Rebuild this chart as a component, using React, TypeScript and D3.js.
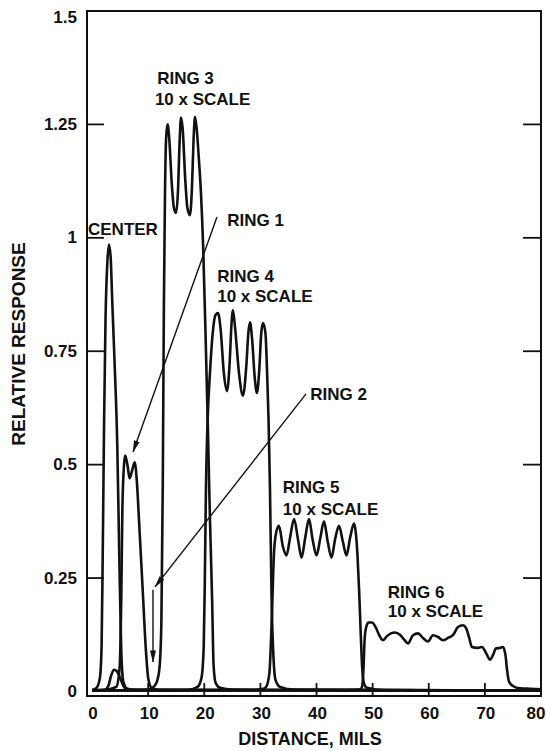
import React from "react";
import * as d3 from "d3";

type Pt = [number, number];

// ---- data (x in mils, y = relative response) ----
const xTicks = [0, 10, 20, 30, 40, 50, 60, 70, 80];
const yTicks = [0, 0.25, 0.5, 0.75, 1, 1.25, 1.5];
const yTickLabels = ["0", "0.25", "0.5", "0.75", "1", "1.25", "1.5"];

const centerCurve: Pt[] = [[0,0.003],[0.8,0.008],[1.4,0.03],[1.7,0.1],[1.9,0.3],[2.15,0.6],[2.4,0.82],[2.7,0.94],[3.0,0.985],[3.3,0.96],[3.6,0.86],[4.0,0.73],[4.5,0.54],[4.85,0.3],[5.2,0.09],[5.6,0.02],[6.3,0.006],[8,0.003],[80,0.002]];

const innerBump: Pt[] = [[0,0.002],[2.2,0.003],[2.9,0.012],[3.4,0.035],[3.9,0.048],[4.4,0.045],[5.0,0.03],[5.6,0.012],[6.3,0.004],[80,0.002]];

const ring1: Pt[] = [[0,0.003],[3,0.005],[4.3,0.01],[4.9,0.05],[5.2,0.2],[5.4,0.4],[5.7,0.5],[5.9,0.52],[6.3,0.5],[6.7,0.47],[7.2,0.49],[7.6,0.505],[8.0,0.46],[8.4,0.37],[9.0,0.23],[9.6,0.09],[10.0,0.03],[10.6,0.008],[12,0.003],[80,0.002]];

const ring3: Pt[] = [[0,0.002],[9.5,0.003],[10.8,0.008],[11.5,0.02],[12.0,0.05],[12.35,0.15],[12.6,0.45],[12.8,0.85],[13.0,1.1],[13.2,1.22],[13.45,1.25],[13.75,1.22],[14.2,1.12],[14.6,1.065],[14.96,1.055],[15.3,1.1],[15.6,1.21],[15.85,1.265],[16.15,1.24],[16.6,1.13],[17.0,1.065],[17.45,1.05],[17.8,1.11],[18.1,1.22],[18.35,1.267],[18.65,1.24],[19.0,1.18],[19.4,1.1],[19.8,0.98],[20.3,0.75],[20.66,0.57],[21.0,0.385],[21.4,0.2],[21.65,0.06],[22.0,0.02],[22.8,0.008],[25,0.004],[80,0.002]];

const ring4: Pt[] = [[0,0.002],[17,0.003],[18.8,0.01],[19.5,0.03],[19.9,0.1],[20.1,0.25],[20.3,0.45],[20.6,0.6],[21.0,0.7],[21.5,0.79],[22.0,0.83],[22.44,0.834],[22.9,0.8],[23.5,0.7],[24.04,0.662],[24.5,0.72],[24.85,0.81],[25.11,0.84],[25.5,0.8],[26.2,0.7],[26.9,0.652],[27.5,0.72],[27.85,0.79],[28.14,0.814],[28.5,0.78],[29.0,0.69],[29.39,0.658],[29.8,0.71],[30.15,0.79],[30.46,0.812],[30.9,0.79],[31.2,0.7],[31.45,0.6],[31.7,0.45],[32.0,0.2],[32.35,0.07],[32.7,0.025],[33.5,0.01],[36,0.004],[80,0.002]];

const ring5: Pt[] = [[0,0.002],[28,0.003],[30.5,0.006],[31.0,0.01],[31.6,0.04],[32.0,0.15],[32.4,0.3],[32.8,0.35],[33.3,0.365],[34.0,0.32],[34.65,0.3],[35.3,0.34],[36.0,0.38],[36.7,0.335],[37.33,0.295],[38.0,0.34],[38.66,0.38],[39.3,0.335],[40.0,0.3],[40.7,0.34],[41.33,0.375],[42.0,0.33],[42.67,0.295],[43.3,0.335],[44.0,0.365],[44.7,0.33],[45.34,0.3],[46.0,0.34],[46.67,0.37],[47.0,0.35],[47.3,0.3],[47.6,0.22],[47.9,0.12],[48.15,0.05],[48.4,0.02],[49,0.008],[52,0.003],[80,0.002]];

const ring6: Pt[] = [[0,0.002],[45,0.003],[47.74,0.004],[48.1,0.01],[48.37,0.05],[48.55,0.11],[48.81,0.14],[49.26,0.152],[49.88,0.152],[50.6,0.14],[51.13,0.125],[51.84,0.113],[52.55,0.122],[53.26,0.128],[53.98,0.13],[54.87,0.125],[55.58,0.115],[56.3,0.106],[57.19,0.124],[58.08,0.128],[58.97,0.118],[59.86,0.11],[60.76,0.124],[61.65,0.12],[62.54,0.113],[63.43,0.118],[64.31,0.124],[65.2,0.142],[66.09,0.146],[66.63,0.14],[67.17,0.12],[67.7,0.098],[68.6,0.096],[69.49,0.098],[70.2,0.085],[70.91,0.07],[71.44,0.08],[71.98,0.095],[72.69,0.096],[73.22,0.098],[73.67,0.08],[73.93,0.05],[74.29,0.022],[75.0,0.012],[76.25,0.007],[78,0.006],[80,0.005]];

const seriesList: Pt[][] = [centerCurve, innerBump, ring1, ring3, ring4, ring5, ring6];

// annotation texts anchored in data coordinates [x, y, text]
const labelTexts: [number, number, string][] = [
  [-0.72, 1.006, "CENTER"],
  [24.1, 1.026, "RING 1"],
  [11.6, 1.339, "RING 3"],
  [11.2, 1.293, "10 x SCALE"],
  [22.3, 0.902, "RING 4"],
  [22.3, 0.858, "10 x SCALE"],
  [38.9, 0.643, "RING 2"],
  [34.0, 0.438, "RING 5"],
  [34.0, 0.39, "10 x SCALE"],
  [52.7, 0.206, "RING 6"],
  [52.7, 0.164, "10 x SCALE"],
];

// arrows [x1, y1, x2, y2] in data coordinates
const arrowLines: [number, number, number, number][] = [
  [22.26, 1.046, 7.3, 0.528],
  [38.13, 0.656, 11.22, 0.2305],
  [10.86, 0.224, 10.86, 0.065],
];

const W = 546;
const H = 751;
const xScale = d3.scaleLinear().domain([-0.9, 80]).range([87, 541]);
const yScale = d3.scaleLinear().domain([-0.01, 1.5]).range([696, 11]);

const FONT = "'Liberation Sans', Arial, Helvetica, sans-serif";
const INK = "#111";

export default function App() {
  const line = d3
    .line<Pt>()
    .x((d) => xScale(d[0]))
    .y((d) => yScale(d[1]))
    .curve(d3.curveMonotoneX);

  const [x0, x1] = xScale.range();
  const [yb, yt] = yScale.range();

  return (
    <svg
      width={W}
      height={H}
      viewBox={`0 0 ${W} ${H}`}
      style={{ position: "absolute", left: 0, top: 0, background: "#fff" }}
    >
      <defs>
        <marker id="ah" viewBox="0 0 12 6" refX="11.5" refY="3" markerWidth="12" markerHeight="6" markerUnits="userSpaceOnUse" orient="auto">
          <path d="M0,0 L12,3 L0,6 Z" fill={INK} />
        </marker>
      </defs>
      <rect x={0} y={0} width={W} height={H} fill="#fff" />

      {/* frame */}
      <rect x={x0} y={yt} width={x1 - x0} height={yb - yt} fill="none" stroke={INK} strokeWidth={2} />

      {/* y ticks left & right */}
      {yTicks.filter((v) => v > 0 && v < 1.5).map((v) => (
        <g key={"yt" + v}>
          <line x1={x0} x2={x0 + 17} y1={yScale(v)} y2={yScale(v)} stroke={INK} strokeWidth={1.8} />
          <line x1={x1} x2={x1 - 18} y1={yScale(v)} y2={yScale(v)} stroke={INK} strokeWidth={1.8} />
        </g>
      ))}
      {/* x ticks */}
      {xTicks.filter((v) => v > 0 && v < 80).map((v) => (
        <line key={"xt" + v} x1={xScale(v)} x2={xScale(v)} y1={yb} y2={yb - 13} stroke={INK} strokeWidth={1.8} />
      ))}

      {/* y tick labels */}
      {yTicks.map((v, i) => (
        <text key={"yl" + v} x={77} y={Math.max(yScale(v), 17)} textAnchor="end" dominantBaseline="central" fontFamily={FONT} fontWeight="bold" fontSize={17} fill={INK}>
          {yTickLabels[i]}
        </text>
      ))}
      {/* x tick labels */}
      {xTicks.map((v) => (
        <text key={"xl" + v} x={Math.min(xScale(v) + 1, 536)} y={713} textAnchor="middle" dominantBaseline="central" fontFamily={FONT} fontWeight="bold" fontSize={17} fill={INK}>
          {v}
        </text>
      ))}

      {/* axis titles */}
      <text x={310} y={745} textAnchor="middle" fontFamily={FONT} fontWeight="bold" fontSize={18} fill={INK}>
        DISTANCE, MILS
      </text>
      <text transform={`translate(25,344) rotate(-90)`} textAnchor="middle" fontFamily={FONT} fontWeight="bold" fontSize={19} fill={INK}>
        RELATIVE RESPONSE
      </text>

      {/* curves */}
      {seriesList.map((s, i) => (
        <path key={"s" + i} d={line(s) || ""} fill="none" stroke={INK} strokeWidth={2.6} strokeLinejoin="round" />
      ))}

      {/* arrows */}
      {arrowLines.map((a, i) => (
        <line key={"a" + i} x1={xScale(a[0])} y1={yScale(a[1])} x2={xScale(a[2])} y2={yScale(a[3])} stroke={INK} strokeWidth={1.4} markerEnd="url(#ah)" />
      ))}

      {/* labels */}
      {labelTexts.map((l, i) => (
        <text key={"l" + i} x={xScale(l[0])} y={yScale(l[1])} fontFamily={FONT} fontWeight="bold" fontSize={17} fill={INK}>
          {l[2]}
        </text>
      ))}
    </svg>
  );
}
